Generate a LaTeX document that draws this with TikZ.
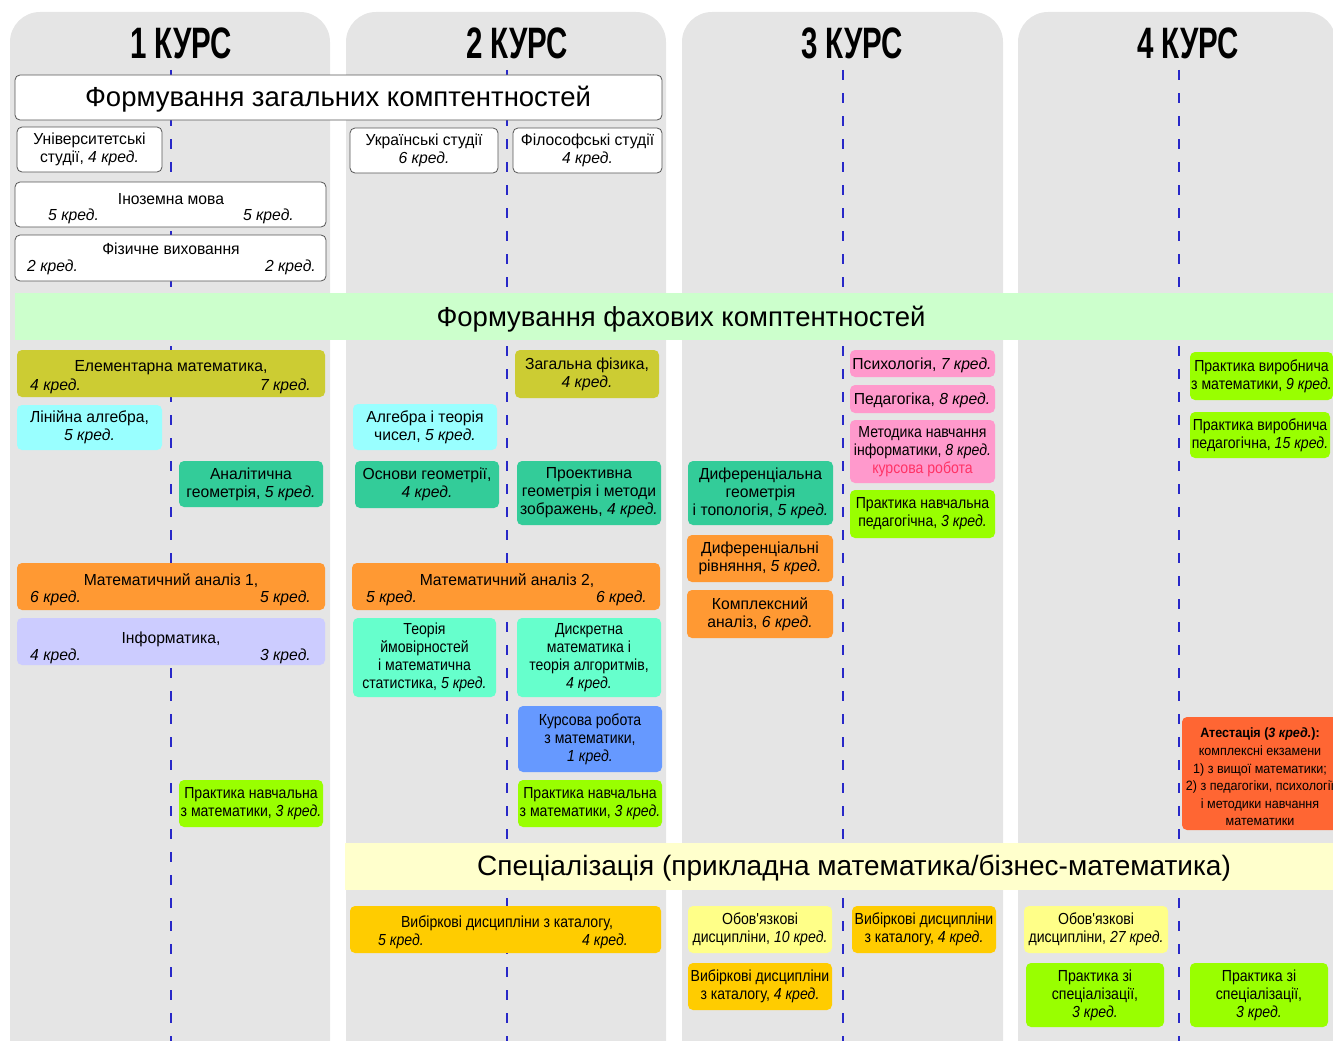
\documentclass[tikz,border=0pt]{standalone}
\usepackage{fontspec}
\setmainfont{Liberation Sans}
\newfontfamily\titlefont[FakeStretch=0.67]{Liberation Sans Bold}
\newfontfamily\nfont[FakeStretch=0.98]{Liberation Sans}
\newfontfamily\cfont[FakeStretch=0.88]{Liberation Sans}
\newfontfamily\atfont[FakeStretch=0.93]{Liberation Sans}
\definecolor{panel}{HTML}{E5E5E5}
\definecolor{olive}{HTML}{CCCC33}
\definecolor{lcyan}{HTML}{99FFFF}
\definecolor{teal2}{HTML}{33CC99}
\definecolor{orng}{HTML}{FF9933}
\definecolor{lav}{HTML}{CCCCFF}
\definecolor{lime}{HTML}{99FF00}
\definecolor{aqua}{HTML}{66FFCC}
\definecolor{blu}{HTML}{6699FF}
\definecolor{pnk}{HTML}{FF99CC}
\definecolor{lyel}{HTML}{FFFFCC}
\definecolor{yel}{HTML}{FFFF88}
\definecolor{gold}{HTML}{FFCC00}
\definecolor{atred}{HTML}{FF6633}
\definecolor{lgreen}{HTML}{CCFFCC}
\definecolor{dashc}{RGB}{40,40,200}
\definecolor{kurs}{HTML}{FF3366}
\definecolor{bord}{HTML}{555555}
\newcommand\bx[7]{\node[#6, minimum width={(#4-#2)*1pt}, minimum height={(#5-#3)*1pt}] (#1) at ({(#2+#4)/2},{(#3+#5)/2}) {#7};}
\tikzset{
  panelbox/.style={fill=panel, draw=none, rounded corners=30pt},
  cbox/.style={rounded corners=5pt, draw=none, inner sep=0pt, align=center, font=\nfont\fontsize{16}{18}\selectfont},
  cond/.style={font=\cfont\fontsize{16}{18}\selectfont},
  wbox/.style={cbox, fill=white, draw=bord, line width=0.8pt},
  band/.style={draw=none, inner sep=0pt},
  bandtext/.style={inner sep=0pt, font=\fontsize{27.5}{32}\selectfont},
  lbl/.style={inner sep=0pt, font=\nfont\fontsize{16}{18}\selectfont},
  clbl/.style={inner sep=0pt, font=\cfont\fontsize{16}{18}\selectfont},
  yeartitle/.style={inner sep=0pt, font=\titlefont\fontsize{44}{50}\selectfont},
  divline/.style={draw=dashc, line width=2.2pt, dash pattern=on 10pt off 13pt},
}
\begin{document}
\begin{tikzpicture}[x=1pt,y=-1pt]
\useasboundingbox (0,0) rectangle (1333,1041);
\clip (0,0) rectangle (1333,1041);
% panels
\fill[panelbox] (10,12) rectangle (330,1075);
\fill[panelbox] (346,12) rectangle (666,1075);
\fill[panelbox] (682,12) rectangle (1003,1075);
\fill[panelbox] (1018,12) rectangle (1336,1075);
% titles
\node[yeartitle] (t1) at (181,43) {1 КУРС};
\node[yeartitle] (t2) at (517,43) {2 КУРС};
\node[yeartitle] (t3) at (852,43) {3 КУРС};
\node[yeartitle] (t4) at (1188,43) {4 КУРС};
% dashed dividers
\foreach \c/\x in {1/171,2/507,3/843,4/1179}{
  \coordinate (d\c a) at (\x,70);
  \coordinate (d\c b) at (\x,1041);
  \draw[divline] (d\c a) -- (d\c b);
}
% general competences
\bx{fz}{15}{75}{662}{120}{wbox}{}
\node[bandtext] (fzt) at (338,99) {Формування загальних комптентностей};
\bx{us}{17}{127}{162}{172}{wbox}{Університетські\\ студії, \textit{4 кред.}}
\bx{im}{15}{182}{326}{227}{wbox}{}
\node[lbl] (imt) at (171,199) {Іноземна мова};
\node[lbl, anchor=west] (iml) at (48,216) {\textit{5 кред.}};
\node[lbl, anchor=east] (imr) at (294,216) {\textit{5 кред.}};
\bx{fv}{15}{235}{326}{281}{wbox}{}
\node[lbl] (fvt) at (171,249) {Фізичне виховання};
\node[lbl, anchor=west] (fvl) at (27,267) {\textit{2 кред.}};
\node[lbl, anchor=east] (fvr) at (316,267) {\textit{2 кред.}};
\bx{uk}{350}{128}{498}{173}{wbox}{Українські студії\\ \textit{6 кред.}}
\bx{fil}{513}{128}{662}{173}{wbox}{Філософські студії\\ \textit{4 кред.}}
% professional band
\bx{ff}{15}{293}{1340}{340}{band, fill=lgreen}{}
\node[bandtext] (fft) at (681,319) {Формування фахових комптентностей};
% column 1
\bx{em}{17}{350}{325}{397}{cbox, fill=olive}{}
\node[lbl] (emt) at (171,368) {Елементарна математика,};
\node[lbl, anchor=west] (eml) at (30,386) {\textit{4 кред.}};
\node[lbl, anchor=east] (emr) at (311,386) {\textit{7 кред.}};
\bx{la}{17}{405}{162}{450}{cbox, fill=lcyan}{Лінійна алгебра,\\ \textit{5 кред.}}
\bx{ag}{179}{461}{323}{507}{cbox, fill=teal2}{Аналітична\\ геометрія, \textit{5 кред.}}
\bx{ma1}{17}{563}{325}{610}{cbox, fill=orng}{}
\node[lbl] (ma1t) at (171,581) {Математичний аналіз 1,};
\node[lbl, anchor=west] (ma1l) at (30,598) {\textit{6 кред.}};
\node[lbl, anchor=east] (ma1r) at (311,598) {\textit{5 кред.}};
\bx{inf}{17}{618}{325}{665}{cbox, fill=lav}{}
\node[lbl] (inft) at (171,639) {Інформатика,};
\node[lbl, anchor=west] (infl) at (30,656) {\textit{4 кред.}};
\node[lbl, anchor=east] (infr) at (311,656) {\textit{3 кред.}};
\bx{pn1}{179}{780}{323}{827}{cbox, cond, fill=lime}{Практика навчальна\\ з математики, \textit{3 кред.}}
% column 2
\bx{zf}{515}{350}{659}{398}{cbox, fill=olive}{Загальна фізика,\\ \textit{4 кред.}}
\bx{atc}{353}{404}{497}{450}{cbox, fill=lcyan}{Алгебра і теорія\\ чисел, \textit{5 кред.}}
\bx{og}{355}{461}{499}{508}{cbox, fill=teal2}{Основи геометрії,\\ \textit{4 кред.}}
\bx{pg}{517}{461}{661}{525}{cbox, fill=teal2}{Проективна\\ геометрія і методи\\ зображень, \textit{4 кред.}}
\bx{ma2}{352}{563}{660}{610}{cbox, fill=orng}{}
\node[lbl] (ma2t) at (507,581) {Математичний аналіз 2,};
\node[lbl, anchor=west] (ma2l) at (366,598) {\textit{5 кред.}};
\node[lbl, anchor=east] (ma2r) at (647,598) {\textit{6 кред.}};
\bx{tv}{353}{618}{496}{697}{cbox, cond, fill=aqua}{Теорія\\ ймовірностей\\ і математична\\ статистика, \textit{5 кред.}}
\bx{dm}{517}{618}{661}{697}{cbox, cond, fill=aqua}{Дискретна\\ математика і\\ теорія алгоритмів,\\ \textit{4 кред.}}
\bx{kr}{518}{706}{662}{772}{cbox, cond, fill=blu}{Курсова робота\\ з математики,\\ \textit{1 кред.}}
\bx{pn2}{518}{780}{662}{827}{cbox, cond, fill=lime}{Практика навчальна\\ з математики, \textit{3 кред.}}
% specialisation band
\bx{sp}{345}{843}{1340}{890}{band, fill=lyel}{}
\node[bandtext, font=\fontsize{28}{32}\selectfont] (spt) at (854,868) {Спеціалізація (прикладна математика/бізнес-математика)};
\bx{vd2}{350}{906}{661}{953}{cbox, fill=gold}{}
\node[clbl] (vd2t) at (507,923) {Вибіркові дисципліни з каталогу,};
\node[clbl, anchor=west] (vd2l) at (378,941) {\textit{5 кред.}};
\node[clbl, anchor=east] (vd2r) at (628,941) {\textit{4 кред.}};
% column 3
\bx{ps}{850}{350}{995}{377}{cbox, fill=pnk}{}
\node[lbl] (pst) at (922,365) {Психологія, \textit{7 кред.}};
\bx{pd}{850}{385}{995}{413}{cbox, fill=pnk}{}
\node[lbl] (pdt) at (922,400) {Педагогіка, \textit{8 кред.}};
\bx{mi}{850}{420}{995}{483}{cbox, cond, fill=pnk}{Методика навчання\\ інформатики, \textit{8 кред.}\\ \textcolor{kurs}{курсова робота}}
\bx{pnp}{850}{490}{995}{538}{cbox, cond, fill=lime}{Практика навчальна\\ педагогічна, \textit{3 кред.}}
\bx{dg}{688}{461}{833}{525}{cbox, fill=teal2}{Диференціальна\\ геометрія\\ і топологія, \textit{5 кред.}}
\bx{dr}{687}{535}{833}{582}{cbox, fill=orng}{Диференціальні\\ рівняння, \textit{5 кред.}}
\bx{ka}{687}{590}{833}{638}{cbox, fill=orng}{Комплексний\\ аналіз, \textit{6 кред.}}
\bx{od3}{688}{906}{832}{953}{cbox, cond, fill=yel}{Обов'язкові\\ дисципліни, \textit{10 кред.}}
\bx{vd3a}{688}{963}{832}{1010}{cbox, cond, fill=gold}{Вибіркові дисципліни\\ з каталогу, \textit{4 кред.}}
\bx{vd3b}{852}{906}{996}{953}{cbox, cond, fill=gold}{Вибіркові дисципліни\\ з каталогу, \textit{4 кред.}}
% column 4
\bx{pvm}{1190}{352}{1333}{400}{cbox, cond, fill=lime}{Практика виробнича\\ з математики, \textit{9 кред.}}
\bx{pvp}{1190}{412}{1330}{458}{cbox, cond, fill=lime}{Практика виробнича\\ педагогічна, \textit{15 кред.}}
\bx{at}{1182}{717}{1340}{830}{cbox, fill=atred}{}
\node[inner sep=0pt, align=center, font=\atfont\fontsize{13.5}{17.6}\selectfont] (att) at (1260,777) {\textbf{Атестація (\textit{3 кред.}):}\\ комплексні екзамени\\ 1) з вищої математики;\\ 2) з педагогіки, психології\\ і методики навчання\\ математики};
\bx{od4}{1024}{906}{1168}{953}{cbox, cond, fill=yel}{Обов'язкові\\ дисципліни, \textit{27 кред.}}
\bx{ps4a}{1026}{963}{1164}{1027}{cbox, cond, fill=lime}{Практика зі\\ спеціалізації,\\ \textit{3 кред.}}
\bx{ps4b}{1190}{963}{1328}{1027}{cbox, cond, fill=lime}{Практика зі\\ спеціалізації,\\ \textit{3 кред.}}
\end{tikzpicture}
\end{document}
